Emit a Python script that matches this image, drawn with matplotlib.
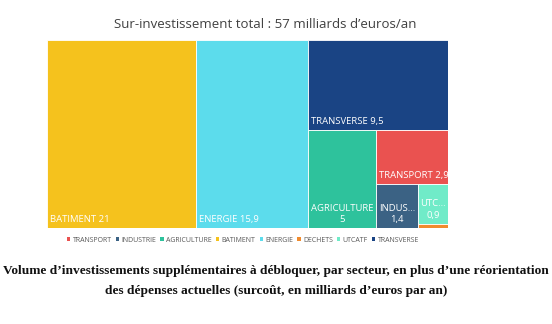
import matplotlib
matplotlib.use('Agg')
import matplotlib.pyplot as plt
from matplotlib.patches import Rectangle, Patch

# data (milliards d'euros / an)
sectors = ['BATIMENT', 'ENERGIE', 'TRANSVERSE', 'AGRICULTURE', 'TRANSPORT', 'INDUSTRIE', 'UTCATF', 'DECHETS']
values = [21, 15.9, 9.5, 5, 2.9, 1.4, 0.9, 0.1]
box_labels = ['BATIMENT 21', 'ENERGIE 15,9', 'TRANSVERSE 9,5', 'AGRICULTURE\n5', 'TRANSPORT 2,9',
              'INDUS...\n1,4', 'UTC...\n0,9', '']
legend_order = ['TRANSPORT', 'INDUSTRIE', 'AGRICULTURE', 'BATIMENT', 'ENERGIE', 'DECHETS', 'UTCATF', 'TRANSVERSE']
colors = {
    'BATIMENT': '#F5C21D',
    'ENERGIE': '#5CDCEC',
    'TRANSVERSE': '#1A4484',
    'AGRICULTURE': '#2EC29C',
    'TRANSPORT': '#EA5250',
    'INDUSTRIE': '#3B6284',
    'UTCATF': '#70EBC8',
    'DECHETS': '#F08B2E',
}

title = 'Sur-investissement total : 57 milliards d\u2019euros/an'
caption1 = 'Volume d\u2019investissements suppl\u00e9mentaires \u00e0 d\u00e9bloquer, par secteur, en plus d\u2019une r\u00e9orientation'
caption2 = 'des d\u00e9penses actuelles (surco\u00fbt, en milliards d\u2019euros par an)'


def worst(row, length):
    s = sum(row)
    return max(max(length ** 2 * r / s ** 2, s ** 2 / (length ** 2 * r)) for r in row)


def squarify(sizes, x, y, w, h):
    # y grows downwards
    rects = []
    sizes = list(sizes)
    while sizes:
        length = min(w, h)
        row = [sizes[0]]
        i = 1
        while i < len(sizes) and worst(row + [sizes[i]], length) <= worst(row, length):
            row.append(sizes[i])
            i += 1
        sizes = sizes[i:]
        s = sum(row)
        if w >= h:
            cw = s / h
            cy = y
            for r in row:
                rh = r / cw
                rects.append((x, cy, cw, rh))
                cy += rh
            x += cw
            w -= cw
        else:
            rh = s / w
            cx = x
            for r in row:
                rw = r / rh
                rects.append((cx, y, rw, rh))
                cx += rw
            y += rh
            h -= rh
    return rects


W, H = 401.0, 188.0
total = sum(values)
areas = [v / total * W * H for v in values]
rects = squarify(areas, 0, 0, W, H)

fig = plt.figure(figsize=(5.52, 3.24), dpi=100)
ax = fig.add_axes([47 / 552, 1 - 228 / 324, W / 552, H / 324])
ax.set_xlim(0, W)
ax.set_ylim(H, 0)
ax.axis('off')

font = 'Open Sans'
for name, lab, (rx, ry, rw, rh) in zip(sectors, box_labels, rects):
    ax.add_patch(Rectangle((rx, ry), rw, rh, facecolor=colors[name], edgecolor='white', linewidth=0.6))
    if not lab:
        continue
    if '\n' in lab:
        ax.text(rx + rw / 2, ry + rh - 4, lab, ha='center', va='bottom', color='white',
                fontsize=6.8, family=font, linespacing=1.3)
    else:
        ax.text(rx + 3, ry + rh - 4, lab, ha='left', va='bottom', color='white',
                fontsize=6.8, family=font)

fig.text(265 / 552, 1 - 25 / 324, title, ha='center', va='center', fontsize=9.5, color='#404040', family=font)

handles = [Patch(facecolor=colors[n], edgecolor='none', label=n) for n in legend_order]
fig.legend(handles=handles, loc='center', bbox_to_anchor=(243 / 552, 1 - 240 / 324), ncol=8, frameon=False,
           prop={'family': font, 'size': 5.0}, labelcolor='#595959', handlelength=0.5, handleheight=0.5,
           handletextpad=0.35, columnspacing=0.55, borderpad=0)

fig.text(0.5, 1 - 271 / 324, caption1, ha='center', va='center', fontsize=9.6, fontweight='bold',
         family='Liberation Serif', color='#111111')
fig.text(0.5, 1 - 291 / 324, caption2, ha='center', va='center', fontsize=9.6, fontweight='bold',
         family='Liberation Serif', color='#111111')

fig.savefig('out.png', dpi=100, facecolor='white')
